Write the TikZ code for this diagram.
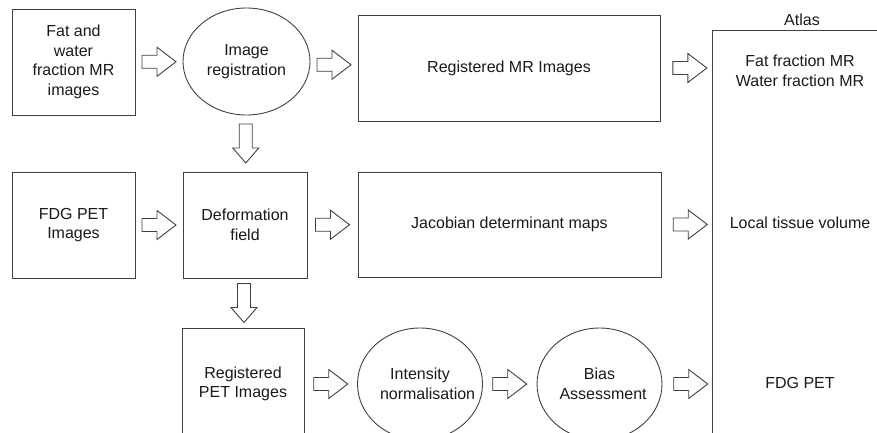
\documentclass[tikz,border=0pt]{standalone}
\usepackage{fontspec}
\setmainfont{Liberation Sans}
\usetikzlibrary{shapes.geometric,calc}

\begin{document}
\begin{tikzpicture}[x=1pt, y=-1pt,
    line/.style={draw=black!75, line width=0.9pt},
    box/.style={line, rectangle, align=center, inner sep=2pt},
    oval/.style={line, ellipse, align=center, text width=80pt, inner sep=1pt},
    every node/.style={font=\fontsize{16}{19.5}\selectfont, text=black!90},
    harrow/.pic={\draw[line, fill=white] (-17,-6.5) -- (-2,-6.5) -- (-2,-14.5) -- (17,0)
      -- (-2,14.5) -- (-2,6.5) -- (-17,6.5) -- cycle;},
    varrow/.pic={\draw[line, fill=white] (-6.5,-19.5) -- (-6.5,4.5) -- (-13,4.5) -- (0,19.5)
      -- (13,4.5) -- (6.5,4.5) -- (6.5,-19.5) -- cycle;}]

    \useasboundingbox (0,0) rectangle (877,433);
    \clip (0,0) rectangle (877,433);

    % first row
    \node[box, minimum width=123pt, minimum height=106pt] (fat) at (73.5,62)
      {Fat and\\water\\fraction MR\\images};
    \node[oval, minimum width=127pt, minimum height=107pt] (imreg) at (246.5,61.5)
      {Image\\registration};
    \node[box, minimum width=302pt, minimum height=106pt] (regmr) at (509,68)
      {Registered MR Images};

    % second row
    \node[box, minimum width=123pt, minimum height=106pt] (fdg) at (73.5,225)
      {FDG PET\\Images};
    \node[box, minimum width=124pt, minimum height=106pt] (deform) at (245,225)
      {Deformation\\field};
    \node[box, minimum width=303pt, minimum height=105pt] (jacob) at (509.5,224.5)
      {Jacobian determinant maps};

    % third row (cut off at the bottom)
    \node[box, minimum width=122pt, minimum height=112pt] (regpet) at (243,384)
      {Registered\\PET Images};
    \node[oval, minimum width=125pt, minimum height=112pt] (intnorm) at (420,384)
      {Intensity\\normalisation};
    \node[oval, minimum width=125pt, minimum height=112pt] (bias) at (599.5,384)
      {Bias\\Assessment};

    % atlas column
    \coordinate (atlastop) at (712,30);
    \coordinate (atlasmr) at (712,68);
    \coordinate (atlasjac) at (712,224.5);
    \coordinate (atlaspet) at (712,384);
    \draw[line] (712,440) -- (atlastop) -- (880,30);
    \node (atlas) at (802,20) {Atlas};
    \node[align=center] (fatwater) at (800,71) {Fat fraction MR\\Water fraction MR};
    \node (tissue) at (800,223) {Local tissue volume};
    \node (fdgpet) at (800,383) {FDG PET};

    % block arrows
    \pic at ($(fat.east)!.5!(imreg.west)$) {harrow};
    \pic at ($(imreg.east)!.5!(regmr.west)$) {harrow};
    \pic at ($(regmr.east)!.57!(atlasmr)$) {harrow};
    \pic at ($(fdg.east)!.5!(deform.west)$) {harrow};
    \pic at ($(deform.east)!.5!(jacob.west)$) {harrow};
    \pic at ($(jacob.east)!.57!(atlasjac)$) {harrow};
    \pic at ($(regpet.east)!.5!(intnorm.west)$) {harrow};
    \pic at ($(intnorm.east)!.5!(bias.west)$) {harrow};
    \pic at ($(bias.east)!.57!(atlaspet)$) {harrow};
    \pic at ($(imreg.south)!.5!(deform.north)$) {varrow};
    \pic at ($(deform.south)!.5!(regpet.north)$) {varrow};
\end{tikzpicture}
\end{document}
